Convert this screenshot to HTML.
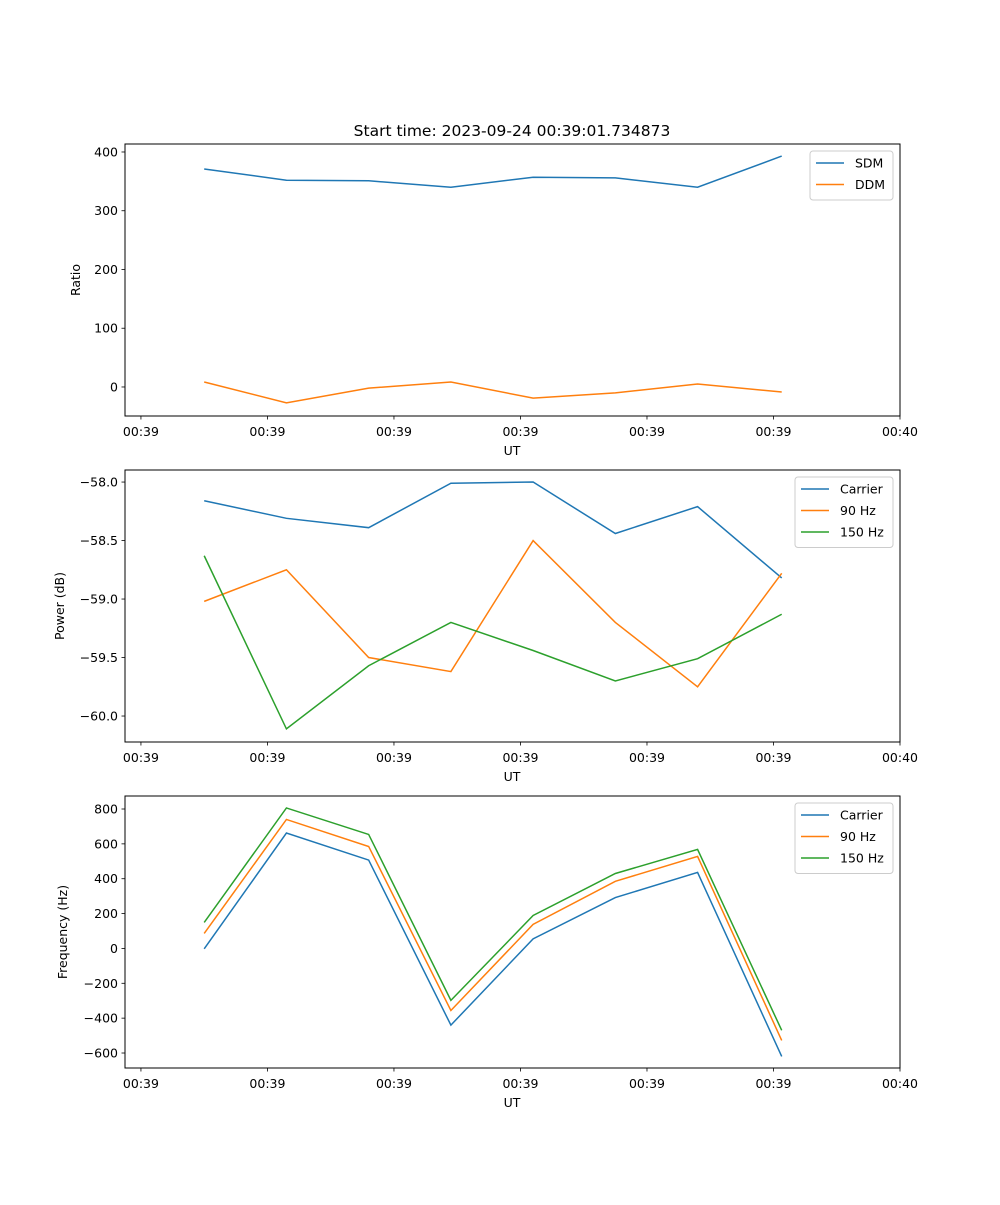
<!DOCTYPE html>
<html><head><meta charset="utf-8"><style>
body{margin:0;background:#fff;font-family:"Liberation Sans","DejaVu Sans",sans-serif}
svg text{font-family:"DejaVu Sans","Liberation Sans",sans-serif;fill:#000}
</style></head><body>
<svg id="fig" width="1000" height="1200" xmlns="http://www.w3.org/2000/svg">
<rect width="1000" height="1200" fill="#fff"/>
<text x="512" y="136" font-size="15.5" text-anchor="middle">Start time: 2023-09-24 00:39:01.734873</text>
</svg>
<script>
const times=[5.0,11.5,18.0,24.5,31.0,37.5,44.0,50.65];
const xTickVals=[0,10,20,30,40,50,60];
const xTickLabels=["00:39","00:39","00:39","00:39","00:39","00:39","00:40"];
const sdm=[371,352,351,340,357,356,340,393];
const ddm=[8.5,-27,-2,8.5,-19,-10,5,-8.5];
const ratioTicks=[0,100,200,300,400];
const powCarrier=[-58.16,-58.31,-58.39,-58.01,-58.0,-58.44,-58.21,-58.82];
const pow90=[-59.02,-58.75,-59.5,-59.62,-58.5,-59.2,-59.75,-58.78];
const pow150=[-58.63,-60.11,-59.57,-59.2,-59.44,-59.7,-59.51,-59.13];
const powTicks=[-60.0,-59.5,-59.0,-58.5,-58.0];
const freqCarrier=[-2,662,507,-440,55,292,436,-620];
const freq90=[86,740,585,-356,138,385,528,-528];
const freq150=[149,806,654,-298,189,430,568,-470];
const freqTicks=[-600,-400,-200,0,200,400,600,800];

const NS="http://www.w3.org/2000/svg";
const svg=document.getElementById('fig');
const L=125,R=900,xMin=-1.26,xMax=60;
function xs(v){return L+(v-xMin)/(xMax-xMin)*(R-L);}
function mk(tag,attrs,parent){const e=document.createElementNS(NS,tag);for(const k in attrs)e.setAttribute(k,attrs[k]);(parent||svg).appendChild(e);return e;}
const C={b:"#1f77b4",o:"#ff7f0e",g:"#2ca02c"};

function panel(name,top,bot,yMin,yMax,ticks,fmt,ylabel,series,leg){
  const g=mk('g',{});
  
  
  const ys=v=>bot-(v-yMin)/(yMax-yMin)*(bot-top);
  series.forEach(s=>{
    const p=mk('polyline',{points:s.v.map((v,i)=>xs(times[i])+','+ys(v)).join(' '),fill:'none',stroke:s.c,'stroke-width':1.5},g);
    
    
  });
  const fr=mk('rect',{x:L,y:top,width:R-L,height:bot-top,fill:'none',stroke:'#000','stroke-width':1},g);
  
  
  xTickVals.forEach((t,i)=>{
    const x=xs(t);
    mk('line',{x1:x,x2:x,y1:bot,y2:bot+3.5,stroke:'#000','stroke-width':0.8},g);
    const tx=mk('text',{x:x,y:bot+20,'font-size':12.5,'text-anchor':'middle'},g);
    tx.textContent=xTickLabels[i];
    
    
  });
  ticks.forEach(t=>{
    const y=ys(t);
    mk('line',{x1:L-3.5,x2:L,y1:y,y2:y,stroke:'#000','stroke-width':0.8},g);
    const tx=mk('text',{x:L-7,y:y+4.5,'font-size':12.5,'text-anchor':'end'},g);
    tx.textContent=fmt(t);
    
    
  });
  const xl=mk('text',{x:512,y:bot+39,'font-size':12.5,'text-anchor':'middle'},g);
  xl.textContent='UT';
  
  
  const cy=(top+bot)/2;
  const yl=mk('text',{x:leg.yx,y:cy,'font-size':12.5,'text-anchor':'middle',transform:'rotate(-90 '+leg.yx+' '+cy+')'},g);
  yl.textContent=ylabel;
  
  
  const lg=mk('g',{},g);
  
  
  mk('rect',{x:leg.x,y:top+7,width:R-7-leg.x,height:series.length*21.5+6,fill:'#fff',stroke:'#ccc',rx:3},lg);
  series.forEach((s,i)=>{
    const y=top+19+i*21.5;
    mk('line',{x1:leg.x+6,x2:leg.x+34,y1:y,y2:y,stroke:s.c,'stroke-width':1.5},lg);
    const t=mk('text',{x:leg.x+45,y:y+4.5,'font-size':12.5},lg);
    t.textContent=s.n;
    
    
  });
}
panel('ratio',144,416,-49.4,413.6,ratioTicks,t=>t<0?'\u2212'+(-t):''+t,'Ratio',
  [{n:'SDM',v:sdm,c:C.b},{n:'DDM',v:ddm,c:C.o}],{x:810,yx:80});
panel('power',470,742,-60.222,-57.897,powTicks,t=>'\u2212'+Math.abs(t).toFixed(1),'Power (dB)',
  [{n:'Carrier',v:powCarrier,c:C.b},{n:'90 Hz',v:pow90,c:C.o},{n:'150 Hz',v:pow150,c:C.g}],{x:795,yx:64});
panel('frequency',796,1068,-686,874.6,freqTicks,t=>t<0?'\u2212'+(-t):''+t,'Frequency (Hz)',
  [{n:'Carrier',v:freqCarrier,c:C.b},{n:'90 Hz',v:freq90,c:C.o},{n:'150 Hz',v:freq150,c:C.g}],{x:795,yx:67});
</script>
</body></html>
